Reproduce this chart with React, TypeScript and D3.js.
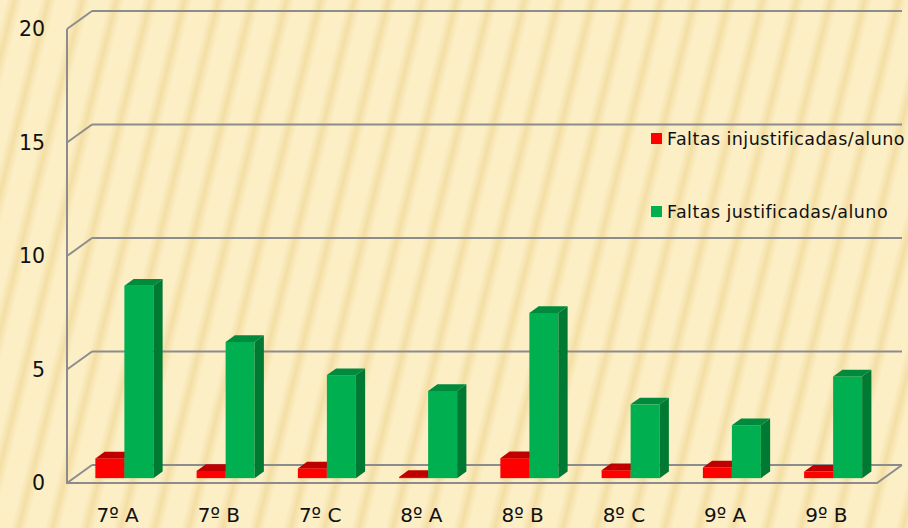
import React from "react";
import * as d3 from "d3";

const turmas = ["7º A", "7º B", "7º C", "8º A", "8º B", "8º C", "9º A", "9º B"];
const injustificadas = [0.87, 0.32, 0.43, 0.05, 0.88, 0.35, 0.47, 0.29];
const justificadas = [8.48, 6.0, 4.54, 3.84, 7.28, 3.25, 2.33, 4.48];
const series = ["Faltas injustificadas/aluno", "Faltas justificadas/aluno"];
const ticks = [0, 5, 10, 15, 20];

const W = 908;
const H = 528;
const FONT = "'DejaVu Sans', sans-serif";

// cores: frente, topo, lado
const colors = [
  { front: "#ff0000", top: "#c00000", side: "#b80000" },
  { front: "#00b050", top: "#008a3e", side: "#007a33" },
];

const App = () => {
  const left = 67;
  const right = 877;
  // profundidade da caixa 3D
  const depthX = 25;
  const depthY = -18;
  // plano das barras e espessura
  const bf = 0.27;
  const bd = 0.37;

  const y = d3.scaleLinear().domain([0, 20]).range([483, 29]);
  const x0 = d3
    .scaleBand()
    .domain(turmas)
    .range([left, right])
    .paddingInner(0.427)
    .paddingOuter(0.2135);
  const x1 = d3
    .scaleBand()
    .domain(series)
    .range([0, x0.bandwidth()]);

  const offX = depthX * bf;
  const offY = depthY * bf;
  const ddx = depthX * bd;
  const ddy = depthY * bd;

  const bar = (xl, w, yb, yt, c, key) => {
    const pts = (arr) => arr.map((p) => p.join(",")).join(" ");
    return (
      <g key={key}>
        <rect x={xl} y={yt} width={w} height={yb - yt} fill={c.front} />
        <polygon
          points={pts([
            [xl, yt],
            [xl + ddx, yt + ddy],
            [xl + w + ddx, yt + ddy],
            [xl + w, yt],
          ])}
          fill={c.top}
        />
        <polygon
          points={pts([
            [xl + w, yt],
            [xl + w + ddx, yt + ddy],
            [xl + w + ddx, yb + ddy],
            [xl + w, yb],
          ])}
          fill={c.side}
        />
      </g>
    );
  };

  const data = [injustificadas, justificadas];

  return (
    <svg
      width={W}
      height={H}
      style={{ position: "absolute", left: 0, top: 0 }}
      fontFamily={FONT}
    >
      <defs>
        <linearGradient id="stripeGrad" x1="0" x2="1" y1="0" y2="0">
          <stop offset="0" stopColor="#f2dca0" stopOpacity="0" />
          <stop offset="0.5" stopColor="#f0d898" stopOpacity="0.75" />
          <stop offset="1" stopColor="#f2dca0" stopOpacity="0" />
        </linearGradient>
        <pattern
          id="stripes"
          width="33"
          height="60"
          patternUnits="userSpaceOnUse"
          patternTransform="rotate(14)"
        >
          <rect width="33" height="60" fill="#fcefc6" />
          <rect x="6" width="16" height="60" fill="url(#stripeGrad)" />
        </pattern>
      </defs>
      <rect width={W} height={H} fill="url(#stripes)" />

      {/* grelha da parede e linhas de profundidade */}
      {ticks.map((t) => (
        <g key={t} stroke="#8c8c8c" strokeWidth={2} fill="none">
          <line
            x1={left + depthX}
            x2={right + depthX}
            y1={y(t) + depthY}
            y2={y(t) + depthY}
          />
          <line x1={left} x2={left + depthX} y1={y(t)} y2={y(t) + depthY} />
        </g>
      ))}
      {/* chão */}
      <polyline
        points={`${left},${y(20)} ${left},${y(0)} ${right},${y(0)} ${right + depthX},${y(0) + depthY}`}
        stroke="#8c8c8c"
        strokeWidth={2}
        fill="none"
      />

      {/* barras */}
      {turmas.map((t, i) => (
        <g key={t}>
          {series.map((s, j) =>
            bar(
              x0(t) + x1(s) + offX,
              x1.bandwidth(),
              y(0) + offY,
              y(data[j][i]) + offY,
              colors[j],
              s
            )
          )}
        </g>
      ))}

      {/* eixo y */}
      {ticks.map((t) => (
        <text
          key={t}
          x={45}
          y={y(t)}
          dy="0.36em"
          textAnchor="end"
          fontSize={20.5}
          fill="#111"
        >
          {t}
        </text>
      ))}

      {/* categorias */}
      {turmas.map((t) => (
        <text
          key={t}
          x={x0(t) + x0.bandwidth() / 2}
          y={522}
          textAnchor="middle"
          fontSize={20}
          fill="#111"
        >
          {t}
        </text>
      ))}

      {/* legenda */}
      {series.map((s, j) => (
        <g key={s} transform={`translate(651,${[133, 206][j]})`}>
          <rect width={11} height={11} fill={colors[j].front} />
          <text
            x={16}
            y={12}
            fontSize={17.5}
            letterSpacing={0.45}
            fill="#111"
          >
            {s}
          </text>
        </g>
      ))}
    </svg>
  );
};

export default App;
